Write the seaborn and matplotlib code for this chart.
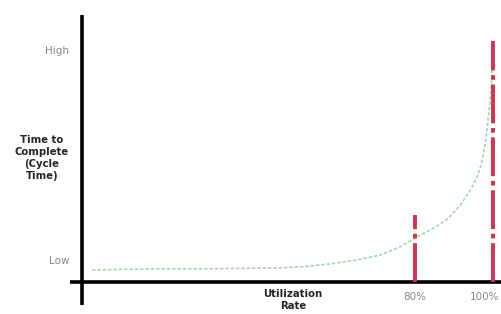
import matplotlib
matplotlib.use("Agg")
import matplotlib.pyplot as plt
from matplotlib.transforms import ScaledTranslation
import pandas as pd
import seaborn as sns

# curve (utilization %, cycle time in arbitrary units; Low=1, High=10)
util = [-2.8, 5, 12, 25, 35, 45, 52, 58, 65, 71, 76, 80, 84, 86, 88, 90, 92, 93, 94, 95,
        96, 97, 97.6, 98.2, 98.7, 99.2, 99.6, 100]
cycle = [0.57, 0.6, 0.62, 0.62, 0.64, 0.66, 0.72, 0.83, 1.0, 1.21, 1.55, 1.94, 2.3, 2.5,
         2.71, 3.05, 3.44, 3.7, 3.95, 4.25, 4.6, 5.1, 5.6, 6.2, 7.0, 7.7, 8.6, 10.1]

marker_x = [80, 100]
marker_top = [2.93, 10.4]
tick_pos = [80, 100]
tick_labels = ["80%", "100%"]
level_pos = [1, 10]
level_labels = ["Low", "High"]

sns.set_theme(style="white")
plt.rcParams["font.family"] = ["DejaVu Sans"]

fig = plt.figure(figsize=(5.02, 3.14), dpi=100)
ax = fig.add_axes([82 / 502, 1 - 282 / 314, 420 / 502, 267 / 314])
ax.set_xlim(-5.4, 102.3)
ax.set_ylim(0.057, 11.5)

df = pd.DataFrame({"util": util, "cycle": cycle})
sns.lineplot(data=df, x="util", y="cycle", ax=ax, color="#a3d6aa",
             linestyle=(0, (2, 1.2)), linewidth=1.2)

for x, top in zip(marker_x, marker_top):
    ax.plot([x, x], [0.057, top], color="#d8314f", linewidth=2.8,
            linestyle=(0, (10, 1.2, 1.2, 1.2)), clip_on=False, zorder=3)

for s in ax.spines.values():
    s.set_visible(False)
# axis lines, drawn a little past the crossing like the original
ax.plot([0, 0], [-0.086, 1.0], transform=ax.transAxes, color="black",
        linewidth=2.6, clip_on=False, solid_capstyle="butt")
ax.plot([-0.029, 1.0], [0, 0], transform=ax.transAxes, color="black",
        linewidth=2.6, clip_on=False, solid_capstyle="butt")

ax.set_xticks(tick_pos, labels=tick_labels)
ax.set_yticks(level_pos, labels=level_labels)
ax.tick_params(axis="both", length=0, labelsize=7.5, labelcolor="#8a8a8a")
ax.tick_params(axis="x", pad=7)
ax.tick_params(axis="y", pad=9)
ax.set_xlabel("")
ax.set_ylabel("")
# keep the 100% label inside the image
last = ax.get_xticklabels()[-1]
last.set_transform(last.get_transform() + ScaledTranslation(-0.08, 0, fig.dpi_scale_trans))

fig.text(42 / 502, 1 - 158 / 314, "Time to\nComplete\n(Cycle\nTime)", ha="center",
         va="center", fontsize=7.3, fontweight="bold", linespacing=1.25)
fig.text(293 / 502, 1 - 289 / 314, "Utilization\nRate", ha="center", va="top",
         fontsize=7.3, fontweight="bold", linespacing=1.2)

fig.savefig("out.png", dpi=100)
